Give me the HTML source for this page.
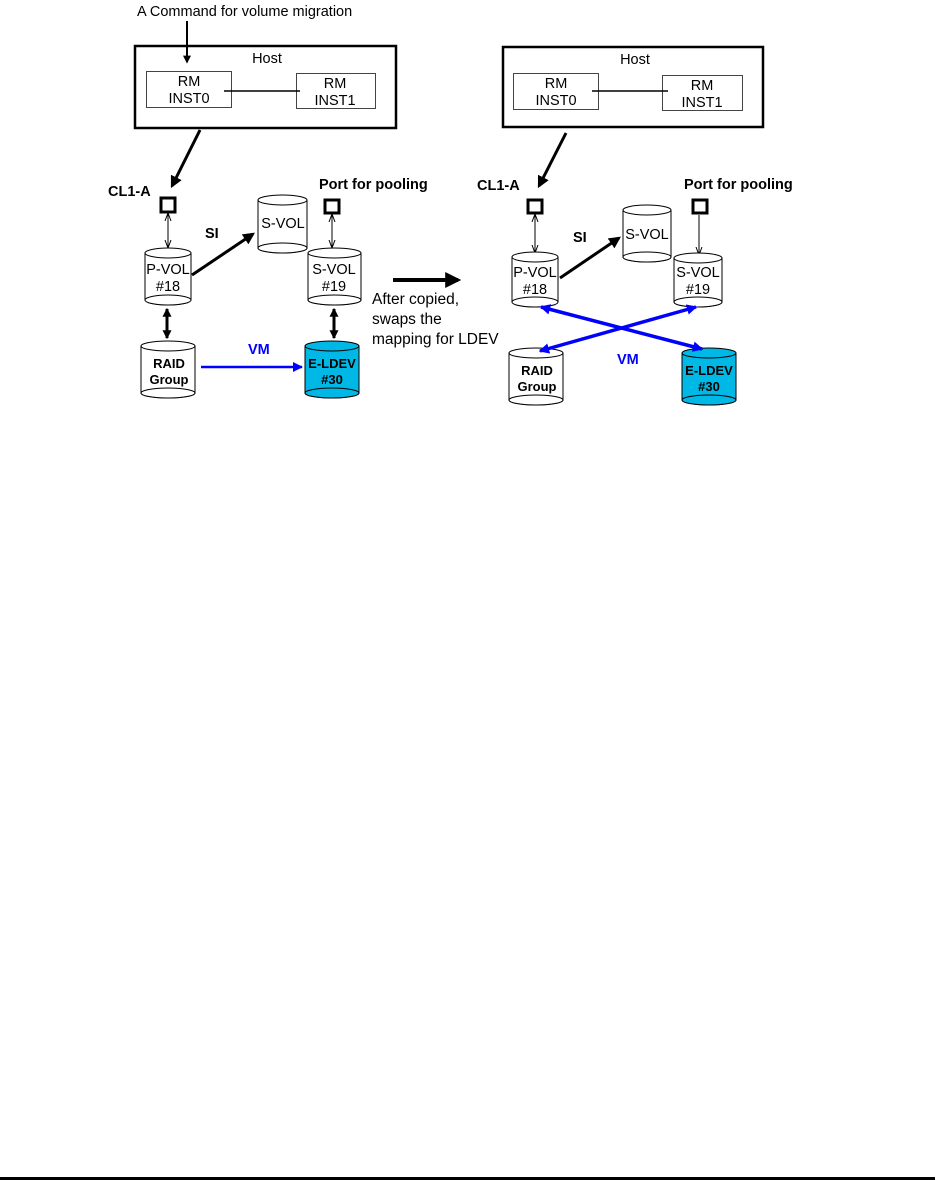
<!DOCTYPE html>
<html><head><meta charset="utf-8"><style>
html,body{margin:0;padding:0;background:#fff;}
svg{display:block;}
text{font-family:"Liberation Sans",Arial,sans-serif;}
</style></head><body>
<svg width="937" height="1180" viewBox="0 0 937 1180" xmlns="http://www.w3.org/2000/svg">
<defs>
<marker id="ah" markerWidth="4" markerHeight="4" refX="3.2" refY="2" orient="auto" markerUnits="strokeWidth"><path d="M0,0 L4,2 L0,4 z" fill="#000"/></marker>
<marker id="ahs" markerWidth="8" markerHeight="8" refX="7" refY="4" orient="auto-start-reverse" markerUnits="userSpaceOnUse"><path d="M0,1 L8,4 L0,7" fill="none" stroke="#000" stroke-width="1"/></marker>
<marker id="ahb" markerWidth="3" markerHeight="3" refX="2.6" refY="1.5" orient="auto-start-reverse" markerUnits="strokeWidth"><path d="M0,0 L3,1.5 L0,3 z" fill="#000"/></marker>
<marker id="ahblue" markerWidth="3" markerHeight="3" refX="2.6" refY="1.5" orient="auto-start-reverse" markerUnits="strokeWidth"><path d="M0,0 L3,1.5 L0,3 z" fill="#0000ff"/></marker>
<marker id="ahblue2" markerWidth="10" markerHeight="10" refX="9" refY="5" orient="auto" markerUnits="userSpaceOnUse"><path d="M0,0 L10,5 L0,10 z" fill="#0000ff"/></marker>
</defs>

<!-- LEFT -->
<text x="137" y="16" font-size="14.5">A Command for volume migration</text>
<line x1="187" y1="21" x2="187" y2="62" stroke="#000" stroke-width="2" marker-end="url(#ah)"/>
<rect x="135" y="46" width="261" height="82" fill="none" stroke="#000" stroke-width="2.5"/>
<text x="267" y="63" font-size="14.5" text-anchor="middle">Host</text>
<rect x="146.5" y="71.5" width="85" height="36" fill="#fff" stroke="#444" stroke-width="1"/>
<text x="189" y="86" font-size="14.5" text-anchor="middle">RM</text>
<text x="189" y="103" font-size="14.5" text-anchor="middle">INST0</text>
<rect x="296.5" y="73.5" width="79" height="35" fill="#fff" stroke="#444" stroke-width="1"/>
<text x="335" y="88" font-size="14.5" text-anchor="middle">RM</text>
<text x="335" y="105" font-size="14.5" text-anchor="middle">INST1</text>
<line x1="224" y1="91" x2="300" y2="91" stroke="#000" stroke-width="1.5"/>
<line x1="200" y1="130" x2="172" y2="186" stroke="#000" stroke-width="3" marker-end="url(#ah)"/>
<text x="108" y="196" font-size="14.5" font-weight="bold">CL1-A</text>
<rect x="161" y="198" width="14" height="14" fill="#fff" stroke="#000" stroke-width="3"/>
<line x1="168" y1="214" x2="168" y2="247" stroke="#000" stroke-width="1" marker-start="url(#ahs)" marker-end="url(#ahs)"/>
<text x="319" y="189" font-size="14.5" font-weight="bold">Port for pooling</text>
<rect x="325" y="200" width="14" height="13" fill="#fff" stroke="#000" stroke-width="3"/>
<line x1="332" y1="215" x2="332" y2="247" stroke="#000" stroke-width="1" marker-start="url(#ahs)" marker-end="url(#ahs)"/>
<g stroke="#000" stroke-width="1" fill="#fff">
<path d="M145,253 v47 a23,5 0 0 0 46,0 v-47"/><ellipse cx="168" cy="253" rx="23" ry="5"/><ellipse cx="168" cy="300" rx="23" ry="5"/>
<path d="M258,200 v48 a24.5,5 0 0 0 49,0 v-48"/><ellipse cx="282.5" cy="200" rx="24.5" ry="5"/><ellipse cx="282.5" cy="248" rx="24.5" ry="5"/>
<path d="M308,253 v47 a26.5,5 0 0 0 53,0 v-47"/><ellipse cx="334.5" cy="253" rx="26.5" ry="5"/><ellipse cx="334.5" cy="300" rx="26.5" ry="5"/>
<path d="M141,346 v47 a27,5 0 0 0 54,0 v-47"/><ellipse cx="168" cy="346" rx="27" ry="5"/><ellipse cx="168" cy="393" rx="27" ry="5"/>
<path d="M305,346 v47 a27,5 0 0 0 54,0 v-47" fill="#00b8e6"/><ellipse cx="332" cy="346" rx="27" ry="5" fill="#00b8e6"/><ellipse cx="332" cy="393" rx="27" ry="5" fill="#00b8e6"/>
</g>
<text x="168" y="274" font-size="14.5" text-anchor="middle">P-VOL</text>
<text x="168" y="291" font-size="14.5" text-anchor="middle">#18</text>
<text x="283" y="228" font-size="14.5" text-anchor="middle">S-VOL</text>
<text x="334" y="274" font-size="14.5" text-anchor="middle">S-VOL</text>
<text x="334" y="291" font-size="14.5" text-anchor="middle">#19</text>
<text x="169" y="368" font-size="13" font-weight="bold" text-anchor="middle">RAID</text>
<text x="169" y="384" font-size="13" font-weight="bold" text-anchor="middle">Group</text>
<text x="332" y="368" font-size="13" font-weight="bold" text-anchor="middle">E-LDEV</text>
<text x="332" y="384" font-size="13" font-weight="bold" text-anchor="middle">#30</text>
<text x="205" y="238" font-size="14.5" font-weight="bold">SI</text>
<line x1="192" y1="275" x2="253" y2="234" stroke="#000" stroke-width="3" marker-end="url(#ah)"/>
<line x1="167" y1="309" x2="167" y2="338" stroke="#000" stroke-width="3" marker-start="url(#ahb)" marker-end="url(#ahb)"/>
<line x1="334" y1="309" x2="334" y2="338" stroke="#000" stroke-width="3" marker-start="url(#ahb)" marker-end="url(#ahb)"/>
<line x1="201" y1="367" x2="302" y2="367" stroke="#0000ff" stroke-width="2.5" marker-end="url(#ahblue2)"/>
<text x="248" y="354" font-size="14.5" font-weight="bold" fill="#0000ff">VM</text>
<!-- middle -->
<line x1="393" y1="280" x2="458" y2="280" stroke="#000" stroke-width="4" marker-end="url(#ah)"/>
<text x="372" y="304" font-size="15.5">After copied,</text>
<text x="372" y="324" font-size="15.5">swaps the</text>
<text x="372" y="344" font-size="15.5">mapping for LDEV</text>

<!-- RIGHT -->
<rect x="503" y="47" width="260" height="80" fill="none" stroke="#000" stroke-width="2.5"/>
<text x="635" y="64" font-size="14.5" text-anchor="middle">Host</text>
<rect x="513.5" y="73.5" width="85" height="36" fill="#fff" stroke="#444" stroke-width="1"/>
<text x="556" y="88" font-size="14.5" text-anchor="middle">RM</text>
<text x="556" y="105" font-size="14.5" text-anchor="middle">INST0</text>
<rect x="662.5" y="75.5" width="80" height="35" fill="#fff" stroke="#444" stroke-width="1"/>
<text x="702" y="90" font-size="14.5" text-anchor="middle">RM</text>
<text x="702" y="107" font-size="14.5" text-anchor="middle">INST1</text>
<line x1="592" y1="91" x2="668" y2="91" stroke="#000" stroke-width="1.5"/>
<line x1="566" y1="133" x2="539" y2="186" stroke="#000" stroke-width="3" marker-end="url(#ah)"/>
<text x="477" y="190" font-size="14.5" font-weight="bold">CL1-A</text>
<rect x="528" y="200" width="14" height="13" fill="#fff" stroke="#000" stroke-width="3"/>
<line x1="535" y1="215" x2="535" y2="252" stroke="#000" stroke-width="1" marker-start="url(#ahs)" marker-end="url(#ahs)"/>
<text x="684" y="189" font-size="14.5" font-weight="bold">Port for pooling</text>
<rect x="693" y="200" width="14" height="13" fill="#fff" stroke="#000" stroke-width="3"/>
<line x1="699" y1="215" x2="699" y2="254" stroke="#000" stroke-width="1" marker-end="url(#ahs)"/>
<g stroke="#000" stroke-width="1" fill="#fff">
<path d="M512,257 v45 a23,5 0 0 0 46,0 v-45"/><ellipse cx="535" cy="257" rx="23" ry="5"/><ellipse cx="535" cy="302" rx="23" ry="5"/>
<path d="M623,210 v47 a24,5 0 0 0 48,0 v-47"/><ellipse cx="647" cy="210" rx="24" ry="5"/><ellipse cx="647" cy="257" rx="24" ry="5"/>
<path d="M674,258 v44 a24,5 0 0 0 48,0 v-44"/><ellipse cx="698" cy="258" rx="24" ry="5"/><ellipse cx="698" cy="302" rx="24" ry="5"/>
<path d="M509,353 v47 a27,5 0 0 0 54,0 v-47"/><ellipse cx="536" cy="353" rx="27" ry="5"/><ellipse cx="536" cy="400" rx="27" ry="5"/>
<path d="M682,353 v47 a27,5 0 0 0 54,0 v-47" fill="#00b8e6"/><ellipse cx="709" cy="353" rx="27" ry="5" fill="#00b8e6"/><ellipse cx="709" cy="400" rx="27" ry="5" fill="#00b8e6"/>
</g>
<text x="535" y="277" font-size="14.5" text-anchor="middle">P-VOL</text>
<text x="535" y="294" font-size="14.5" text-anchor="middle">#18</text>
<text x="647" y="239" font-size="14.5" text-anchor="middle">S-VOL</text>
<text x="698" y="277" font-size="14.5" text-anchor="middle">S-VOL</text>
<text x="698" y="294" font-size="14.5" text-anchor="middle">#19</text>
<text x="537" y="375" font-size="13" font-weight="bold" text-anchor="middle">RAID</text>
<text x="537" y="391" font-size="13" font-weight="bold" text-anchor="middle">Group</text>
<text x="709" y="375" font-size="13" font-weight="bold" text-anchor="middle">E-LDEV</text>
<text x="709" y="391" font-size="13" font-weight="bold" text-anchor="middle">#30</text>
<text x="573" y="242" font-size="14.5" font-weight="bold">SI</text>
<line x1="560" y1="278" x2="619" y2="238" stroke="#000" stroke-width="3" marker-end="url(#ah)"/>
<line x1="541" y1="307" x2="702" y2="349" stroke="#0000ff" stroke-width="3.5" marker-start="url(#ahblue)" marker-end="url(#ahblue)"/>
<line x1="540" y1="351" x2="696" y2="307" stroke="#0000ff" stroke-width="3.5" marker-start="url(#ahblue)" marker-end="url(#ahblue)"/>
<text x="617" y="364" font-size="14.5" font-weight="bold" fill="#0000ff">VM</text>

<rect x="0" y="1177" width="935" height="3" fill="#000"/>
</svg>
</body></html>
